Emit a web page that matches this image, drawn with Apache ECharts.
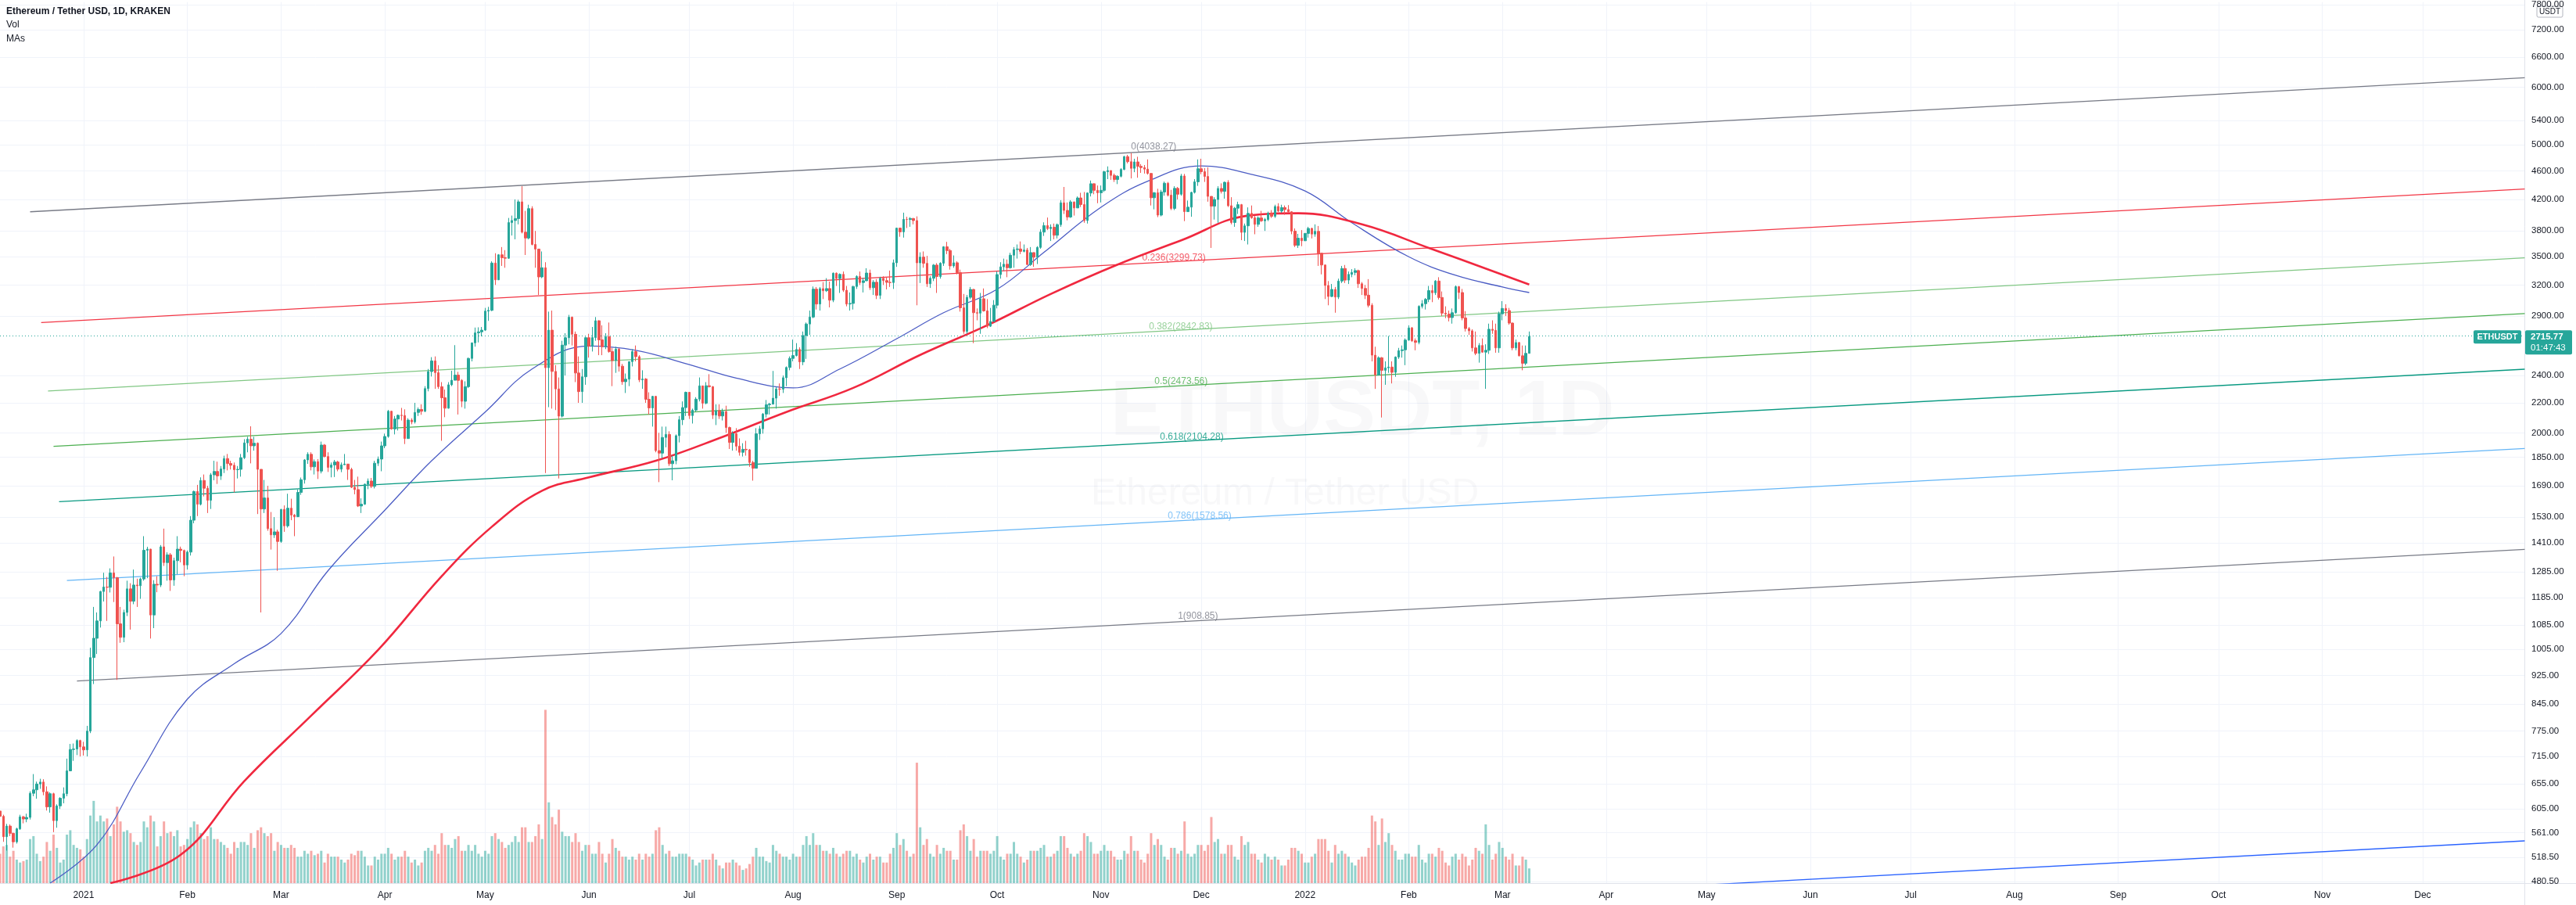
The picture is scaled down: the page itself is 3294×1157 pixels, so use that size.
<!DOCTYPE html>
<html><head><meta charset="utf-8">
<script src="https://cdn.jsdelivr.net/npm/echarts@6/dist/echarts.min.js"></script>
<style>html,body{margin:0;padding:0;background:#fff;overflow:hidden}#c{width:3294px;height:1157px}</style>
</head><body><div id="c"></div>
<script>
// ---------- DATA ----------
const FIRST_DAY = '2020-12-07';
const FIRST_OPEN = 601;
// daily [close, high, low]; open = previous close (24/7 market)
const c2012 = [[591,604,583],[554,594,545],[573,577,530],[560,576,555],[545,561,535],[568,570,542],[590,594,566],[586,592,578],[589,596,580],[636,640,585],[643,676,630],[655,660,625],[659,666,645],[639,665,632],[609,650,602],[635,638,598],[583,637,562],[611,614,570],[626,628,605],[635,648,616],[683,710,630],[731,744,682],[732,745,705],[752,755,718],[737,754,715]];
const c2101 = [[730,749,717],[775,788,715],[979,1010,770],[1041,1150,900],[1100,1130,990],[1208,1210,1077],[1225,1282,1170],[1224,1265,1100],[1281,1300,1204],[1262,1350,1168],[1090,1265,912],[1044,1150,1026],[1130,1140,1028],[1218,1250,1117],[1171,1240,1070],[1233,1295,1160],[1230,1258,1150],[1257,1262,1180],[1377,1440,1250],[1382,1392,1260],[1121,1383,1040],[1236,1252,1075],[1233,1268,1205],[1392,1400,1225],[1324,1475,1310],[1357,1368,1250],[1253,1365,1210],[1332,1345,1230],[1382,1440,1276],[1376,1393,1325],[1314,1380,1268]];
const c2102 = [[1369,1376,1295],[1515,1535,1354],[1660,1664,1500],[1594,1695,1535],[1719,1736,1588],[1677,1752,1634],[1614,1690,1550],[1750,1760,1570],[1769,1830,1720],[1744,1825,1700],[1783,1800,1722],[1843,1860,1760],[1814,1870,1775],[1804,1830,1780],[1779,1820,1655],[1781,1800,1730],[1848,1870,1740],[1937,1960,1840],[1960,1975,1880],[1919,2042,1815],[1935,1975,1890],[1781,1940,1545],[1570,1780,1130],[1626,1722,1550],[1475,1690,1465],[1446,1555,1380],[1460,1530,1432],[1416,1470,1290]];
const c2103 = [[1568,1570,1410],[1488,1588,1460],[1574,1648,1480],[1540,1622,1515],[1532,1545,1440],[1655,1670,1530],[1723,1735,1642],[1835,1840,1702],[1868,1880,1812],[1795,1880,1775],[1825,1838,1752],[1771,1840,1727],[1924,1945,1758],[1855,1930,1850],[1792,1880,1766],[1806,1820,1736],[1823,1835,1738],[1782,1830,1770],[1807,1820,1765],[1811,1870,1808],[1781,1811,1722],[1682,1790,1678],[1670,1722,1645],[1585,1740,1580],[1594,1624,1550],[1699,1702,1591],[1716,1730,1672],[1687,1733,1678],[1816,1830,1676],[1840,1855,1800],[1919,1945,1770]];
const c2104 = [[1977,1995,1905],[2142,2151,1969],[2025,2145,2020],[2090,2110,1990],[2115,2120,2015],[2113,2165,2080],[1964,2155,1930],[2083,2095,1963],[2071,2095,2055],[2134,2200,2060],[2154,2168,2110],[2142,2190,2118],[2302,2320,2136],[2430,2450,2282],[2514,2544,2392],[2422,2550,2300],[2316,2480,2300],[2236,2350,1950],[2163,2295,2102],[2330,2350,2160],[2364,2436,2320],[2403,2643,2380],[2363,2428,2120],[2211,2372,2170],[2316,2356,2160],[2534,2540,2306],[2662,2665,2510],[2748,2795,2630],[2757,2797,2666],[2772,2800,2718]];
const c2105 = [[2945,2975,2765],[2952,2985,2855],[3431,3450,2945],[3253,3540,3200],[3522,3530,3250],[3490,3610,3400],[3484,3575,3380],[3902,3960,3477],[3928,3990,3745],[3952,4200,3700],[4168,4195,3880],[3785,4380,3770],[3715,4050,3520],[4079,4130,3700],[3640,4110,3630],[3587,3800,3380],[3283,3590,3100],[3380,3560,3270],[2460,3440,1760],[2772,2940,2170],[2431,2950,2160],[2300,2480,2150],[2109,2385,1730],[2643,2680,2100],[2706,2745,2400],[2888,2910,2650],[2736,2895,2640],[2419,2760,2350],[2280,2550,2200],[2390,2450,2200],[2706,2715,2330]];
const c2106 = [[2634,2740,2540],[2707,2800,2590],[2856,2890,2680],[2688,2860,2560],[2630,2815,2560],[2715,2745,2610],[2590,2840,2580],[2517,2620,2320],[2609,2630,2420],[2472,2620,2430],[2353,2490,2330],[2372,2415,2270],[2508,2510,2320],[2589,2610,2470],[2548,2640,2510],[2367,2560,2350],[2373,2440,2300],[2225,2380,2200],[2165,2275,2120],[2246,2250,2040],[1890,2250,1880],[1875,2000,1710],[1971,2040,1845],[1990,2040,1910],[1813,2010,1800],[1830,1860,1720],[1982,1990,1810],[2085,2110,1940],[2167,2210,2050],[2275,2280,2110]];
const c2107 = [[2113,2275,2090],[2150,2160,2060],[2226,2240,2140],[2322,2385,2210],[2198,2320,2160],[2323,2350,2190],[2316,2410,2310],[2116,2320,2090],[2146,2190,2050],[2110,2190,2090],[2140,2160,2080],[2034,2180,2000],[1940,2040,1900],[1994,2010,1890],[1917,2030,1890],[1880,1965,1860],[1898,1935,1855],[1895,1950,1860],[1820,1900,1795],[1787,1830,1718],[1994,2030,1790],[2026,2045,1955],[2123,2130,1995],[2187,2220,2100],[2191,2200,2120],[2233,2435,2190],[2299,2315,2160],[2298,2340,2250],[2383,2400,2270],[2462,2470,2320],[2534,2550,2440]];
const c2108 = [[2557,2690,2510],[2607,2660,2550],[2506,2625,2450],[2725,2760,2480],[2827,2840,2530],[2890,2950,2730],[3158,3185,2880],[3012,3180,2960],[3163,3180,2950],[3142,3230,3060],[3164,3270,3130],[3049,3235,2980],[3322,3330,3030],[3266,3330,3190],[3310,3320,3120],[3147,3340,3130],[3012,3190,2990],[3018,3125,2950],[3185,3190,2960],[3287,3300,3160],[3225,3340,3200],[3243,3275,3125],[3324,3375,3240],[3172,3360,3150],[3228,3250,3100],[3096,3260,3060],[3269,3285,3060],[3245,3290,3200],[3227,3280,3155],[3225,3350,3180],[3434,3470,3160]];
const c2109 = [[3834,3840,3390],[3789,3840,3730],[3942,4027,3720],[3941,3975,3835],[3953,3970,3850],[3927,3960,3880],[3433,3980,3000],[3497,3550,3220],[3428,3560,3380],[3212,3510,3180],[3269,3290,3170],[3409,3420,3240],[3287,3430,3120],[3429,3440,3265],[3613,3620,3400],[3570,3670,3530],[3400,3590,3360],[3434,3515,3380],[3329,3450,3310],[2976,3360,2940],[2761,3110,2740],[3077,3100,2740],[3155,3180,3060],[2930,3160,2660],[2926,2970,2860],[3063,3120,2740],[2947,3165,2940],[2807,3060,2790],[2850,2975,2800],[3001,3050,2850]];
const c2110 = [[3308,3340,2970],[3390,3440,3265],[3418,3480,3350],[3380,3470,3280],[3518,3545,3370],[3581,3610,3380],[3588,3640,3480],[3561,3675,3530],[3576,3640,3550],[3415,3600,3410],[3547,3610,3400],[3495,3550,3390],[3606,3620,3420],[3786,3820,3590],[3865,3905,3740],[3828,3965,3810],[3845,3880,3680],[3748,3890,3700],[3877,3890,3710],[4155,4190,3850],[4056,4370,4010],[3972,4160,3930],[4167,4190,3960],[4088,4170,3990],[4220,4240,4090],[4132,4290,4100],[3928,4300,3900],[4287,4295,3890],[4415,4460,4240],[4323,4420,4270],[4290,4390,4150]];
const c2111 = [[4323,4390,4160],[4586,4600,4300],[4604,4665,4480],[4534,4605,4470],[4475,4560,4440],[4521,4535,4410],[4620,4640,4505],[4812,4825,4610],[4735,4840,4710],[4637,4868,4490],[4732,4780,4580],[4666,4810,4500],[4648,4700,4570],[4625,4685,4560],[4562,4770,4545],[4222,4565,4120],[4290,4300,4070],[3996,4345,3970],[4300,4330,3980],[4422,4445,4250],[4257,4440,4240],[4082,4330,4060],[4350,4380,4060],[4270,4370,4200],[4525,4555,4250],[4040,4555,3920],[4098,4185,4040],[4295,4305,3975],[4442,4480,4280],[4630,4770,4385]];
const c2112 = [[4587,4780,4550],[4518,4640,4440],[4241,4650,4170],[4111,4240,3600],[4199,4230,3940],[4349,4380,3900],[4309,4420,4280],[4435,4445,4210],[4117,4465,4100],[3903,4230,3880],[4085,4100,3850],[4131,4170,4010],[3783,4140,3690],[3862,3890,3680],[4018,4095,3640],[3962,4120,3950],[3880,3985,3760],[3960,3980,3850],[3924,4050,3910],[3940,3960,3800],[4019,4040,3920],[3980,4060,3960],[4107,4130,3960],[4048,4150,4035],[4093,4130,4025],[4067,4120,4000],[4039,4125,4030],[3797,4045,3760],[3630,3830,3610],[3713,3765,3600],[3683,3810,3620]];
const c2201 = [[3770,3775,3680],[3830,3850,3720],[3762,3840,3710],[3795,3880,3730],[3540,3860,3400],[3410,3545,3310],[3195,3415,3060],[3085,3240,3000],[3155,3210,3080],[3080,3180,2930],[3240,3265,3060],[3372,3400,3220],[3250,3410,3220],[3310,3340,3210],[3330,3365,3280],[3350,3375,3300],[3212,3360,3170],[3165,3230,3100],[3098,3200,3060],[3000,3260,2980],[2560,3020,2510],[2405,2630,2300],[2539,2550,2400],[2440,2545,2100],[2459,2510,2330],[2465,2720,2420],[2424,2510,2340],[2545,2550,2390],[2597,2620,2530],[2604,2640,2540],[2686,2700,2480]];
const c2202 = [[2792,2815,2680],[2680,2800,2670],[2666,2700,2600],[2990,3000,2650],[3015,3050,2970],[3057,3070,2960],[3143,3190,3030],[3122,3200,3030],[3240,3250,3100],[3075,3280,3055],[2926,3135,2900],[2917,2990,2880],[2885,2950,2850],[2930,2970,2830],[3183,3195,2920],[3124,3190,3060],[2882,3160,2860],[2786,2945,2760],[2766,2800,2730],[2620,2780,2590],[2575,2760,2560],[2640,2660,2500],[2585,2700,2580],[2600,2650,2300],[2780,2830,2570],[2770,2860,2740],[2620,2830,2580],[2920,2940,2580]];
const c2203 = [[2970,3040,2860],[2950,3010,2900],[2835,2975,2820],[2620,2840,2600],[2665,2690,2600],[2555,2670,2550],[2495,2640,2440],[2575,2640,2480],[2715.77,2760,2575]];

// daily volume (thousand ETH, estimated)
const v2012 = [2.0,2.5,2.6,1.8,2.2,1.6,1.4,1.5,1.6,3.0,3.2,2.0,1.5,1.8,2.8,2.2,3.3,2.4,1.4,1.6,3.3,3.6,2.6,2.4,2.3];
const v2101 = [1.8,3.0,4.6,5.6,4.2,4.6,4.2,4.4,3.2,4.0,5.2,4.2,3.5,3.6,3.4,2.8,2.6,2.8,4.2,3.8,4.6,4.2,2.5,3.2,4.2,3.4,3.5,3.2,3.6,2.5,2.6];
const v2102 = [3.0,3.8,4.2,4.0,3.4,3.0,3.2,3.8,3.0,3.0,2.8,2.6,2.4,2.0,2.8,2.4,2.8,2.8,2.6,3.4,2.4,3.6,3.8,3.4,3.2,3.4,2.2,2.8];
const v2103 = [2.6,2.4,2.4,2.6,2.4,1.8,1.8,2.2,2.0,2.2,1.9,2.0,2.2,1.4,2.0,1.8,1.8,1.8,1.6,1.4,1.6,2.0,1.9,2.2,2.2,1.8,1.2,1.2,1.8,1.6,2.0];
const v2104 = [2.0,2.4,2.0,1.6,1.8,1.8,2.2,1.8,1.4,1.6,1.2,1.4,2.2,2.4,2.2,2.6,2.0,3.4,2.6,2.6,2.4,3.0,3.2,2.2,2.2,2.6,2.2,2.6,2.0,1.8];
const v2105 = [2.2,2.0,3.2,3.4,3.0,2.8,2.4,2.6,2.8,3.2,2.8,3.8,3.8,2.8,2.8,3.2,4.0,3.0,11.8,5.5,4.5,4.0,5.0,3.5,3.2,3.2,2.8,3.4,2.8,2.2,2.6];
const v2106 = [2.6,2.0,2.0,2.8,2.0,1.4,2.0,3.0,2.4,2.2,1.8,1.8,1.6,1.8,1.6,2.0,1.6,2.0,1.8,2.0,3.6,3.8,2.6,2.0,2.2,1.8,1.8,2.0,2.0,2.0];
const v2107 = [1.8,1.6,1.2,1.4,1.6,1.6,1.6,2.0,1.6,1.2,1.0,1.4,1.4,1.6,1.4,1.2,0.9,1.0,1.3,1.8,2.4,1.8,1.8,1.5,1.4,2.6,2.2,2.0,1.8,1.8,1.6];
const v2108 = [2.0,1.8,1.8,2.6,3.2,2.6,3.4,2.6,2.6,2.2,2.2,2.0,2.4,2.0,1.8,2.0,2.2,2.2,1.8,2.0,1.6,1.4,1.8,2.0,1.6,1.8,1.8,1.4,1.4,2.0,2.4];
const v2109 = [3.4,2.6,3.0,2.2,1.8,2.0,8.2,3.8,2.6,3.0,2.0,1.8,2.6,2.0,2.4,2.2,2.2,1.6,1.6,3.6,4.0,3.2,2.2,3.0,1.8,2.2,2.2,2.2,2.0,2.2];
const v2110 = [3.2,1.8,1.6,2.0,2.0,2.8,2.0,1.8,1.4,1.6,2.2,2.2,2.2,2.4,2.6,1.8,1.8,2.0,2.2,3.2,3.2,2.4,2.0,1.8,2.0,2.2,3.4,3.2,2.8,2.0,2.0];
const v2111 = [2.2,2.6,2.2,2.2,1.8,1.6,1.6,2.2,2.0,3.2,2.2,2.2,1.6,1.4,2.0,3.4,2.6,3.0,2.6,1.8,1.6,2.4,2.4,2.0,2.2,4.2,2.0,1.8,2.0,2.6];
const v2112 = [2.6,2.2,2.6,4.5,2.8,3.0,2.0,2.0,2.6,2.6,1.8,1.6,3.2,2.6,2.8,2.0,2.0,1.6,1.4,2.0,1.8,1.6,1.8,1.6,1.2,1.2,1.6,2.4,2.4,2.2,2.0];
const v2201 = [1.4,1.4,1.8,2.0,3.0,3.0,3.0,2.2,1.4,2.6,2.0,2.2,2.0,1.8,1.4,1.2,1.6,1.8,1.8,2.4,4.6,4.2,2.6,4.4,2.8,3.4,2.6,2.2,1.6,1.6,2.0];
const v2202 = [2.0,1.8,1.8,2.6,1.6,1.4,2.0,2.0,1.8,2.4,2.2,1.4,1.2,1.8,2.0,1.6,2.0,1.8,1.2,1.6,2.4,2.2,2.0,4.0,2.6,1.6,2.0,2.8];
const v2203 = [2.4,1.8,1.6,2.0,1.2,1.2,1.8,1.6,1.0];

// moving averages: [date, value]
const maBlue = [['2020-12-22',478],['2021-01-05',540],['2021-01-18',680],['2021-02-01',858],['2021-02-15',960],['2021-03-01',1057],['2021-03-15',1290],['2021-04-01',1564],['2021-04-15',1830],['2021-05-01',2137],['2021-05-15',2450],['2021-06-01',2636],['2021-06-15',2600],['2021-07-01',2485],['2021-07-15',2380],['2021-08-01',2307],['2021-08-15',2450],['2021-09-01',2698],['2021-09-15',2930],['2021-10-01',3157],['2021-10-15',3550],['2021-11-01',4096],['2021-11-15',4450],['2021-12-01',4672],['2021-12-15',4560],['2022-01-01',4315],['2022-01-15',3900],['2022-02-01',3500],['2022-02-15',3300],['2022-03-01',3180],['2022-03-09',3124]];
const maRed = [['2021-01-09',478],['2021-01-30',523],['2021-02-18',661],['2021-03-10',814],['2021-03-30',1003],['2021-04-18',1268],['2021-05-03',1484],['2021-05-18',1664],['2021-06-01',1736],['2021-06-21',1830],['2021-07-11',1975],['2021-07-30',2137],['2021-08-19',2307],['2021-09-08',2562],['2021-09-28',2815],['2021-10-17',3110],['2021-11-06',3415],['2021-11-25',3688],['2021-12-15',3990],['2021-12-30',4020],['2022-01-18',3880],['2022-02-07',3600],['2022-03-09',3205]];

// price scale tick labels
const priceTicks = [7800,7200,6600,6000,5400,5000,4600,4200,3800,3500,3200,2900,2400,2200,2000,1850,1690,1530,1410,1285,1185,1085,1005,925,845,775,715,655,605,561,518.5,480.5];
// time scale ticks
const monthTickDates = ['2021-01-01','2021-02-01','2021-03-01','2021-04-01','2021-05-01','2021-06-01','2021-07-01','2021-08-01','2021-09-01','2021-10-01','2021-11-01','2021-12-01','2022-01-01','2022-02-01','2022-03-01','2022-04-01','2022-05-01','2022-06-01','2022-07-01','2022-08-01','2022-09-01','2022-10-01','2022-11-01','2022-12-01'];
const monthTickLabels = ['2021','Feb','Mar','Apr','May','Jun','Jul','Aug','Sep','Oct','Nov','Dec','2022','Feb','Mar','Apr','May','Jun','Jul','Aug','Sep','Oct','Nov','Dec'];

// Fibonacci channel
const fibLevels = [0,0.236,0.382,0.5,0.618,0.786,1,1.618];
const fibLabels = ['0(4038.27)','0.236(3299.73)','0.382(2842.83)','0.5(2473.56)','0.618(2104.28)','0.786(1578.56)','1(908.85)',''];
const fibColors = ['#787b86','#f23645','#81c784','#4caf50','#089981','#64b5f6','#787b86','#2962ff'];
const fib0Start = ['2020-12-16', 4038.27];
const fib1Start = ['2020-12-30', 908.85];
const fib0EndPrice = 6185;     // level-0 value at the right edge (2022-12-31)
const fibLabelOffsetDays = 329;

const LAST_PRICE = 2715.77;
const COUNTDOWN = '01:47:43';
const VIEW = {from: -25, to: 729.4, low: 478, high: 7865, volMax: 60};

// ---------- BUILD ----------
const DAY0 = Date.UTC(2021,0,1);
const dayOf = s => { const p = s.split('-').map(Number); return (Date.UTC(p[0],p[1]-1,p[2]) - DAY0)/864e5; };
const L = Math.log;
const allC = [].concat(c2012,c2101,c2102,c2103,c2104,c2105,c2106,c2107,c2108,c2109,c2110,c2111,c2112,c2201,c2202,c2203);
const allV = [].concat(v2012,v2101,v2102,v2103,v2104,v2105,v2106,v2107,v2108,v2109,v2110,v2111,v2112,v2201,v2202,v2203);
const d0 = dayOf(FIRST_DAY);
const UP='#26a69a', DN='#ef5350';
const candleData=[], volData=[];
let prev = FIRST_OPEN;
allC.forEach((c,i)=>{
  const o=prev, cl=c[0], h=Math.max(c[1],o,cl), lo=Math.min(c[2],o,cl), d=d0+i;
  candleData.push([d, L(o), L(cl), L(lo), L(h)]);
  volData.push({value:[d, allV[i]||0], itemStyle:{color: cl>=o ? 'rgba(38,166,154,0.5)' : 'rgba(239,83,80,0.5)'}});
  prev = cl;
});
const monthDays = monthTickDates.map(dayOf);
const font = 'Liberation Sans, Arial, sans-serif';

const f0d = dayOf(fib0Start[0]), f0l = L(fib0Start[1]);
const f1d = dayOf(fib1Start[0]), f1l = L(fib1Start[1]);
const endDay = 729.5;
const slope = (L(fib0EndPrice) - f0l) / (endDay - f0d);
const series = [];
series.push({type:'bar', xAxisIndex:0, yAxisIndex:1, data:volData, barWidth:3, silent:true, z:1, animation:false});
fibLevels.forEach((lv,k)=>{
  const sd = f0d + lv*(f1d-f0d), sl = f0l + lv*(f1l-f0l);
  series.push({type:'line', data:[[sd,sl],[endDay, sl+slope*(endDay-sd)]], symbol:'none', silent:true, z:2,
    lineStyle:{color:fibColors[k], width:1.3}, animation:false});
  if (fibLabels[k]) {
    const ld = sd + fibLabelOffsetDays;
    series.push({type:'scatter', data:[[ld, sl+slope*(ld-sd)]], symbolSize:0, silent:true, z:6,
      label:{show:true, position:[0,-1], align:'left', verticalAlign:'bottom', formatter:fibLabels[k],
        color:fibColors[k], fontSize:12, fontFamily:font}, animation:false});
  }
});
series.push({type:'line', data:maBlue.map(p=>[dayOf(p[0]), L(p[1])]), smooth:0.4, symbol:'none', silent:true, z:4,
  lineStyle:{color:'#4b5cc4', width:1.3}, animation:false});
series.push({type:'line', data:maRed.map(p=>[dayOf(p[0]), L(p[1])]), smooth:0.4, symbol:'none', silent:true, z:4,
  lineStyle:{color:'#f0283f', width:2.6}, animation:false});
series.push({type:'candlestick', data:candleData, encode:{x:0, y:[1,2,3,4]}, barWidth:3, z:5, silent:true,
  itemStyle:{color:UP, color0:DN, borderColor:UP, borderColor0:DN, borderWidth:1},
  markLine:{symbol:'none', silent:true, animation:false, label:{show:false},
    lineStyle:{color:UP, type:[1,3], width:1}, data:[{yAxis:L(LAST_PRICE)}]},
  animation:false});

const chart = echarts.init(document.getElementById('c'));
chart.setOption({
  animation:false,
  backgroundColor:'#ffffff',
  grid:{left:0, right:66, top:0, bottom:28, containLabel:false},
  xAxis:{type:'value', min:VIEW.from, max:VIEW.to,
    axisLine:{show:true, lineStyle:{color:'#e0e3eb'}}, axisTick:{show:false, customValues:monthDays},
    splitLine:{show:true, lineStyle:{color:'#f0f3fa', width:1}},
    axisLabel:{customValues:monthDays, margin:10, color:'#131722', fontSize:12, fontFamily:font,
      formatter:v=>{ const i = monthDays.findIndex(m=>Math.abs(m-v)<0.01); return i>=0?monthTickLabels[i]:''; }}},
  yAxis:[{type:'value', position:'right', min:L(VIEW.low), max:L(VIEW.high),
      axisLine:{show:false}, axisTick:{show:false, customValues:priceTicks.map(L)},
      splitLine:{show:true, lineStyle:{color:'#f0f3fa', width:1}},
      axisLabel:{customValues:priceTicks.map(L), margin:9, color:'#131722', fontSize:11.5, fontFamily:font,
        formatter:v=>Math.exp(v).toFixed(2)}},
    {type:'value', min:0, max:VIEW.volMax, show:false}],
  series
});

// overlays positioned through the axes
const yLast = chart.convertToPixel({yAxisIndex:0}, L(LAST_PRICE));
chart.setOption({graphic:[
  {type:'text', left:1420, top:478, z:0, silent:true, style:{text:'ETHUSDT, 1D', font:'bold 100px '+font, fill:'rgba(120,123,134,0.05)'}},
  {type:'text', left:1395, top:608, z:0, silent:true, style:{text:'Ethereum / Tether USD', font:'48px '+font, fill:'rgba(120,123,134,0.05)'}},
  {type:'text', left:8, top:9, style:{text:'Ethereum / Tether USD, 1D, KRAKEN', font:'bold 12px '+font, fill:'#131722'}},
  {type:'text', left:8, top:26, style:{text:'Vol', font:'12px '+font, fill:'#131722'}},
  {type:'text', left:8, top:44, style:{text:'MAs', font:'12px '+font, fill:'#131722'}},
  {type:'line', shape:{x1:3228.5, y1:0, x2:3228.5, y2:1157}, style:{stroke:'#e0e3eb', lineWidth:1}},
  {type:'line', shape:{x1:0, y1:1129.5, x2:3294, y2:1129.5}, style:{stroke:'#e0e3eb', lineWidth:1}},
  {type:'rect', shape:{x:3244, y:8, width:33, height:14, r:2}, style:{fill:'#fff', stroke:'#b2b5be', lineWidth:1}},
  {type:'text', x:3260.5, y:15, style:{text:'USDT', font:'10px '+font, fill:'#131722', align:'center', verticalAlign:'middle'}},
  {type:'rect', shape:{x:3163, y:yLast-8, width:61, height:17, r:2}, style:{fill:UP}},
  {type:'text', x:3193.5, y:yLast+0.5, style:{text:'ETHUSDT', font:'bold 11px '+font, fill:'#fff', align:'center', verticalAlign:'middle'}},
  {type:'rect', shape:{x:3229, y:yLast-8, width:60, height:31, r:2}, style:{fill:UP}},
  {type:'text', x:3236, y:yLast+0.5, style:{text:LAST_PRICE.toFixed(2), font:'bold 11.5px '+font, fill:'#fff', align:'left', verticalAlign:'middle'}},
  {type:'text', x:3236, y:yLast+15, style:{text:COUNTDOWN, font:'11.5px '+font, fill:'#fff', align:'left', verticalAlign:'middle'}}
]});
</script></body></html>
